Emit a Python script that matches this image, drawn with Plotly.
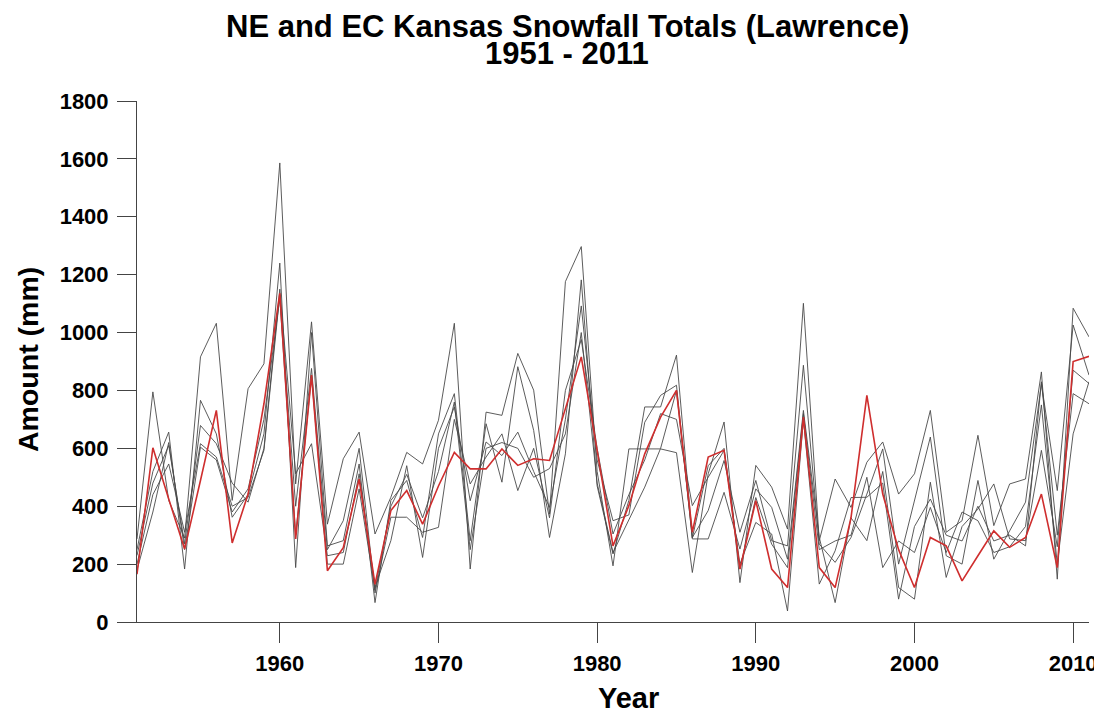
import plotly.graph_objects as go

years = list(range(1951, 2012))

lawrence = [165, 602, 425, 252, 489, 731, 273, 442, 754, 1136,
            287, 853, 177, 257, 494, 130, 385, 454, 338, 470,
            586, 529, 529, 598, 541, 564, 558, 737, 916, 593,
            263, 402, 581, 708, 800, 310, 570, 593, 183, 419,
            183, 119, 708, 188, 119, 360, 783, 442, 250, 119,
            292, 263, 142, 229, 315, 258, 292, 442, 188, 900, 918]

station_1 = [287, 795, 420, 290, 916, 1032, 420, 806, 892, 1586,
             477, 1037, 338, 564, 656, 304, 431, 586, 546, 697,
             1032, 183, 725, 714, 928, 801, 373, 1176, 1297, 520,
             194, 598, 598, 598, 585, 171, 512, 691, 136, 541,
             466, 321, 1101, 281, 494, 396, 552, 622, 442, 512,
             731, 310, 350, 645, 333, 477, 494, 864, 148, 1084, 985]

station_2 = [250, 520, 656, 183, 766, 650, 362, 440, 650, 1240,
             188, 1000, 263, 281, 546, 67, 420, 489, 292, 650,
             789, 281, 685, 483, 882, 662, 292, 581, 1182, 470,
             235, 420, 743, 743, 922, 292, 385, 558, 310, 489,
             281, 263, 887, 269, 206, 292, 442, 598, 200, 419,
             639, 229, 200, 489, 217, 315, 414, 824, 454, 1026, 853]

station_3 = [230, 480, 610, 270, 679, 616, 480, 414, 600, 1150,
             512, 616, 229, 240, 512, 120, 281, 540, 223, 600,
             743, 419, 622, 575, 656, 520, 396, 700, 1092, 560,
             350, 370, 690, 783, 818, 287, 287, 448, 252, 460,
             396, 217, 731, 292, 67, 360, 281, 520, 119, 79,
             483, 154, 330, 390, 477, 287, 281, 593, 260, 870, 824]

station_4 = [200, 440, 546, 310, 616, 570, 400, 430, 593, 1130,
             400, 876, 250, 350, 600, 100, 362, 362, 310, 327,
             700, 477, 570, 650, 454, 600, 360, 800, 976, 600,
             304, 440, 560, 720, 700, 402, 500, 593, 200, 344,
             304, 38, 700, 131, 246, 430, 431, 480, 79, 330,
             425, 300, 280, 400, 280, 300, 263, 830, 300, 789, 754]

station_5 = [180, 380, 620, 250, 604, 560, 380, 460, 700, 1120,
             300, 850, 200, 200, 460, 110, 400, 510, 360, 520,
             760, 250, 600, 620, 600, 500, 530, 650, 1000, 480,
             240, 356, 466, 600, 800, 290, 540, 600, 183, 430,
             269, 188, 720, 250, 280, 300, 500, 188, 280, 240,
             396, 240, 380, 350, 240, 260, 330, 750, 200, 650, 830]

x_tick_vals = [1960, 1970, 1980, 1990, 2000, 2010]
y_tick_vals = [0, 200, 400, 600, 800, 1000, 1200, 1400, 1600, 1800]

title_line1 = "NE and EC Kansas Snowfall Totals (Lawrence)"
title_line2 = "1951 - 2011"
x_title = "Year"
y_title = "Amount (mm)"

# the page has an 8px body margin, so the figure is 8px smaller and shifted
W, H = 1094, 705
L, R, T, B = 129, 13, 93, 91

fig = go.Figure()
for s in [station_1, station_2, station_3, station_4, station_5]:
    fig.add_trace(go.Scatter(x=years, y=s, mode="lines",
                             line=dict(color="#4a4a4a", width=0.9),
                             showlegend=False, hoverinfo="skip"))
fig.add_trace(go.Scatter(x=years, y=lawrence, mode="lines",
                         line=dict(color="#cf2e2e", width=1.6),
                         showlegend=False, name="Lawrence"))

font_family = "Liberation Sans, Arial, sans-serif"


def px_x(p):
    return (p - L) / (W - L - R)


def px_y(p):
    return (H - B - p) / (H - T - B)


annos = [
    dict(text="<b>" + title_line1 + "</b>", x=px_x(559), y=px_y(18),
         font=dict(size=31)),
    dict(text="<b>" + title_line2 + "</b>", x=px_x(559), y=px_y(46),
         font=dict(size=31)),
    dict(text="<b>" + x_title + "</b>", x=px_x(620), y=px_y(690),
         font=dict(size=29)),
    dict(text="<b>" + y_title + "</b>", x=px_x(20), y=px_y(352),
         font=dict(size=28.5), textangle=-90),
]
for a in annos:
    a.update(xref="paper", yref="paper", showarrow=False,
             xanchor="center", yanchor="middle")
    a["font"].update(family=font_family, color="black")

fig.update_layout(
    width=W, height=H,
    paper_bgcolor="white", plot_bgcolor="white",
    margin=dict(l=L, r=R, t=T, b=B, autoexpand=False),
    font=dict(family=font_family, color="black"),
    annotations=annos,
)

fig.update_xaxes(range=[1951, 2011], tickvals=x_tick_vals, automargin=False,
                 ticks="outside", ticklen=20, tickcolor="#444", tickwidth=1,
                 showline=True, linecolor="#444", linewidth=1,
                 showgrid=False, zeroline=False,
                 tickfont=dict(family=font_family, size=22, color="black", weight="bold"),
                 ticklabelstandoff=2)

fig.update_yaxes(range=[0, 1800], tickvals=y_tick_vals, automargin=False,
                 ticks="outside", ticklen=19, tickcolor="#444", tickwidth=1,
                 showline=True, linecolor="#444", linewidth=1,
                 showgrid=False, zeroline=False,
                 tickfont=dict(family=font_family, size=22, color="black", weight="bold"),
                 ticklabelstandoff=4)

fig.write_html("out.html")
